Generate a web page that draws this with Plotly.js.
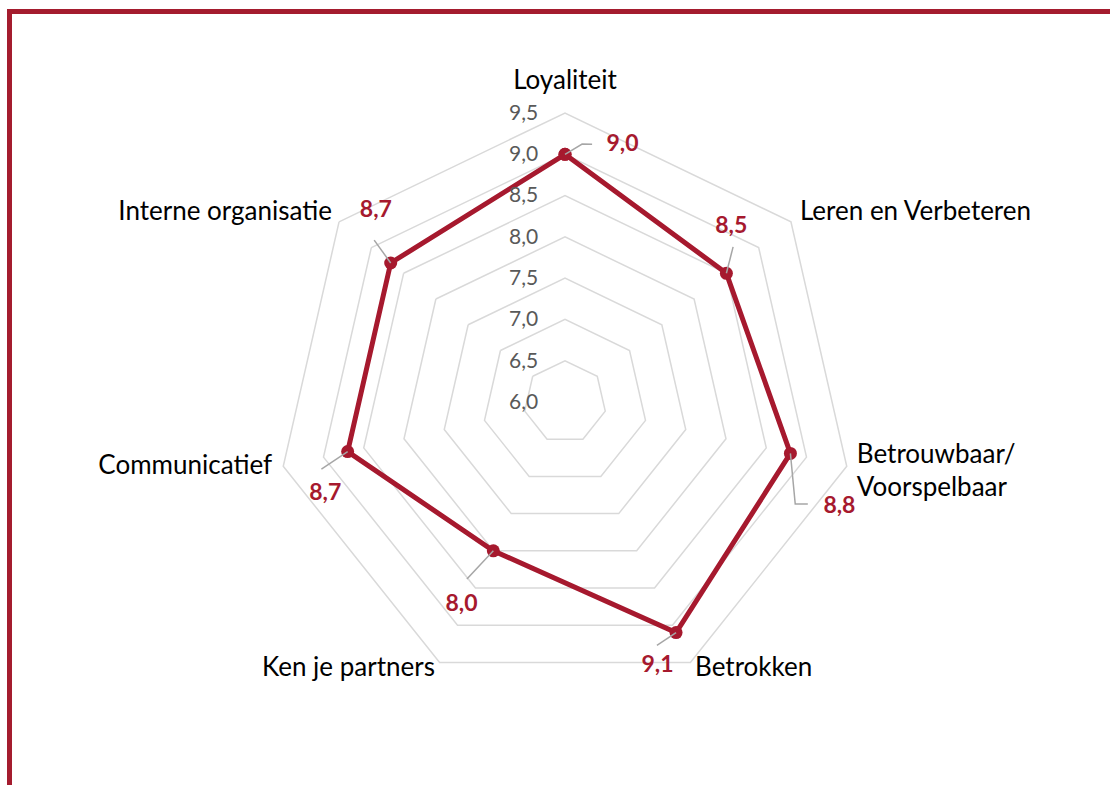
<!DOCTYPE html>
<html>
<head>
<meta charset="utf-8">
<script src="https://cdn.plot.ly/plotly-3.0.1.min.js"></script>
<style>
  html, body { margin: 0; padding: 0; background: #ffffff; }
  #chart { width: 1110px; height: 785px; }
</style>
</head>
<body>
<div id="chart"></div>
<script>
// ---- data ----
const categories = ["Loyaliteit", "Leren en Verbeteren", "Betrouwbaar/<br>Voorspelbaar", "Betrokken", "Ken je partners", "Communicatief", "Interne organisatie"];
const scores = [9.0, 8.5, 8.8, 9.1, 8.0, 8.7, 8.7];
const radialTickVals = [6.0, 6.5, 7.0, 7.5, 8.0, 8.5, 9.0, 9.5];
const radialTickText = ["6,0", "6,5", "7,0", "7,5", "8,0", "8,5", "9,0", "9,5"];

// ---- styling / placement (not data) ----
const RED = "#a6192e";
const GRID = "#d9d9d9";
const FONT = "Lato, 'Open Sans', sans-serif";
const n = categories.length;
const angles = categories.map((c, i) => i * 360 / n);
// category-label anchor positions (r, theta) and text positions
const catLabelPos = [[9.874, 0], [9.651, 51.2], [9.638, 103.67], [9.607, 154.1], [9.607, 205.9], [9.636, 257.3], [9.632, 309.0]];
const catLabelAnchor = ["middle center", "middle right", "middle right", "middle right", "middle left", "middle left", "middle left"];
// data-label positions (r, theta) and leader paths, per category
const labelPos = [[9.19, 12.6], [8.92, 43.6], [9.56, 111.0], [9.39, 160.7], [8.76, 207.0], [9.11, 249.0], [9.25, 315.2]];
const leaderPts = [
  [[9.13, 3.8], [9.14, 6.0]],
  [[8.77, 47.3]],
  [[9.05, 113.9], [9.19, 112.8]],
  [[9.15, 159.3]],
  [[8.45, 209.0]],
  [[9.06, 254.6]],
  [[9.03, 310.3]]
];

const fmt = v => v.toFixed(1).replace(".", ",");

const traces = [];
// main series on the category (heptagon grid) subplot
traces.push({
  type: "scatterpolar", subplot: "polar", mode: "lines+markers",
  r: scores.concat([scores[0]]),
  theta: categories.concat([categories[0]]),
  line: { color: RED, width: 5 },
  marker: { color: RED, size: 13 },
  showlegend: false, cliponaxis: false
});
// leader lines (overlay subplot with numeric angles)
leaderPts.forEach((pts, i) => {
  traces.push({
    type: "scatterpolar", subplot: "polar2", mode: "lines",
    r: [scores[i]].concat(pts.map(p => p[0])),
    theta: [angles[i]].concat(pts.map(p => p[1])),
    line: { color: "#a6a6a6", width: 1.5 },
    hoverinfo: "skip", showlegend: false, cliponaxis: false
  });
});
// data labels
traces.push({
  type: "scatterpolar", subplot: "polar2", mode: "text",
  r: labelPos.map(p => p[0]),
  theta: labelPos.map(p => p[1]),
  text: scores.map(fmt),
  textposition: "middle center",
  textfont: { family: FONT, size: 23, color: RED, weight: "bold" },
  showlegend: false, cliponaxis: false, hoverinfo: "skip"
});
// category labels
traces.push({
  type: "scatterpolar", subplot: "polar2", mode: "text",
  r: catLabelPos.map(p => p[0]),
  theta: catLabelPos.map(p => p[1]),
  text: categories,
  textposition: catLabelAnchor,
  textfont: { family: FONT, size: 26, color: "#000000" },
  showlegend: false, cliponaxis: false, hoverinfo: "skip"
});

const W = 1110, H = 785;
const cx = 565, cy = 402, R = 289;
const R2 = R * (10 - 6) / (9.5 - 6);
const dom = { x: [(cx - R) / W, (cx + R) / W], y: [(H - cy - R) / H, (H - cy + R) / H] };
const dom2 = { x: [(cx - R2) / W, (cx + R2) / W], y: [(H - cy - R2) / H, (H - cy + R2) / H] };
const layout = {
  width: W, height: H,
  margin: { l: 0, r: 0, t: 0, b: 0 },
  paper_bgcolor: "#ffffff",
  showlegend: false,
  font: { family: FONT, color: "#000000" },
  polar: {
    domain: dom,
    bgcolor: "rgba(0,0,0,0)",
    gridshape: "linear",
    radialaxis: {
      range: [6, 9.5],
      tickmode: "array", tickvals: radialTickVals, ticktext: radialTickText,
      angle: 90, side: "counterclockwise",
      showline: false,
      gridcolor: GRID, gridwidth: 1.5,
      ticks: "outside", ticklen: 19, tickcolor: "rgba(0,0,0,0)",
      tickfont: { family: FONT, size: 21, color: "#595959" },
      tickangle: 90
    },
    angularaxis: {
      type: "category",
      direction: "clockwise", rotation: 90,
      showgrid: false,
      showline: true, linecolor: GRID, linewidth: 1.5,
      showticklabels: false, ticks: ""
    }
  },
  polar2: {
    domain: dom2,
    bgcolor: "rgba(0,0,0,0)",
    radialaxis: { range: [6, 10], visible: false, showgrid: false, showline: false, showticklabels: false, ticks: "" },
    angularaxis: { type: "linear", thetaunit: "degrees", direction: "clockwise", rotation: 90, visible: false, showgrid: false, showline: false, showticklabels: false, ticks: "" }
  },
  shapes: [
    { type: "line", xref: "paper", yref: "paper", x0: 7 / W, x1: 1, y0: 1 - 11.5 / H, y1: 1 - 11.5 / H, line: { color: "#a41c2e", width: 5 } },
    { type: "line", xref: "paper", yref: "paper", x0: 9.5 / W, x1: 9.5 / W, y0: 1 - 9 / H, y1: 0, line: { color: "#a41c2e", width: 5 } }
  ]
};

Plotly.newPlot("chart", traces, layout, { displayModeBar: false, staticPlot: true });
</script>
</body>
</html>
